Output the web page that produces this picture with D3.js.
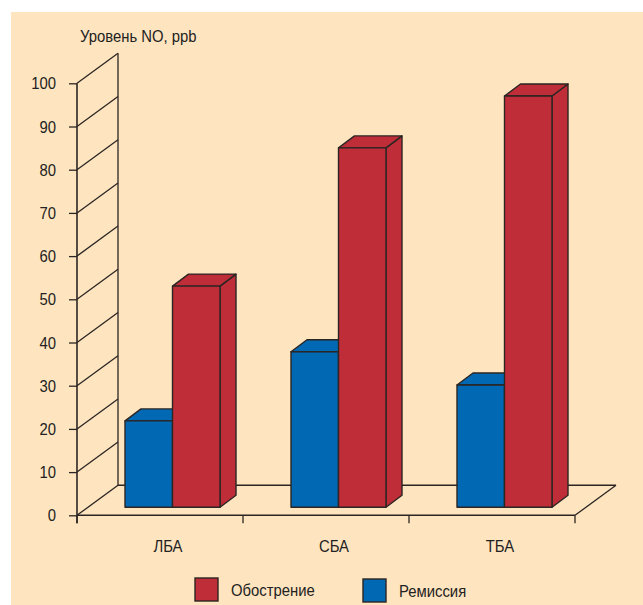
<!DOCTYPE html>
<html>
<head>
<meta charset="utf-8">
<script src="https://cdn.jsdelivr.net/npm/d3@7"></script>
<style>
  body { margin: 0; background: #fff; }
  svg text { font-family: "Liberation Sans", Arial, sans-serif; fill: #222; }
</style>
</head>
<body>
<div id="chart"></div>
<script>
// data
const categories = ['ЛБА', 'СБА', 'ТБА'];
const seriesNames = ['Ремиссия', 'Обострение'];
const remission = [20, 36, 28.3];
const exacerbation = [51.2, 83.2, 95.2];
const yTicks = [0, 10, 20, 30, 40, 50, 60, 70, 80, 90, 100];
const legendOrder = ['Обострение', 'Ремиссия'];

const width = 643;
const height = 605;
const colors = { 'Ремиссия': '#0169b3', 'Обострение': '#be2d38' };
const stroke = '#2b2523';
const fontSize = 16.5;
const squeeze = 0.9; // condensed look of the original type

// 3d wall depth and bar depth
const wall = { dx: 41, dy: -30 };
const barShift = { dx: 12.5, dy: -8 };
const barDepth = { dx: 16, dy: -12 };

const plot = { left: 77, right: 575, top: 83.3, bottom: 515.3 };

const svg = d3.select('#chart')
  .append('svg')
  .attr('width', width)
  .attr('height', height);

svg.append('rect')
  .attr('x', 11).attr('y', 12)
  .attr('width', width - 11).attr('height', height - 12)
  .attr('fill', '#fee5bf');

// narrow text helper
function label(parent, x, y, txt, anchor) {
  return parent.append('text')
    .attr('transform', `translate(${x},${y}) scale(${squeeze},1)`)
    .attr('text-anchor', anchor || 'start')
    .attr('font-size', fontSize)
    .text(txt);
}

const yScale = d3.scaleLinear().domain([0, 100]).range([plot.bottom, plot.top]);
const xScale = d3.scaleBand().domain(categories).range([plot.left, plot.right]);
const groupW = 95;
const xInner = d3.scaleBand().domain(seriesNames).range([0, groupW]);

// back wall: vertical line + diagonal gridlines
const grid = svg.append('g').attr('stroke', stroke).attr('stroke-width', 1.3).attr('fill', 'none');
grid.append('line')
  .attr('x1', plot.left + wall.dx).attr('x2', plot.left + wall.dx)
  .attr('y1', yScale(0) + wall.dy).attr('y2', yScale(100) + wall.dy);
grid.selectAll('.diag')
  .data(yTicks)
  .join('line')
  .attr('class', 'diag')
  .attr('x1', plot.left).attr('y1', (d) => yScale(d))
  .attr('x2', plot.left + wall.dx).attr('y2', (d) => yScale(d) + wall.dy);

// floor
grid.append('line')
  .attr('x1', plot.left + wall.dx).attr('y1', yScale(0) + wall.dy)
  .attr('x2', plot.right + wall.dx).attr('y2', yScale(0) + wall.dy)
  .attr('stroke-width', 1.6);
grid.append('line')
  .attr('x1', plot.right).attr('y1', yScale(0))
  .attr('x2', plot.right + wall.dx).attr('y2', yScale(0) + wall.dy);

// front y axis
const yAxis = d3.axisLeft(yScale).tickValues(yTicks).tickSize(8).tickFormat('');
const gy = svg.append('g')
  .attr('transform', `translate(${plot.left},0)`)
  .call(yAxis);
gy.select('.domain').remove();
gy.selectAll('line').attr('stroke', stroke).attr('stroke-width', 1.3);
gy.append('line')
  .attr('y1', yScale(100)).attr('y2', yScale(0) + 8)
  .attr('stroke', stroke).attr('stroke-width', 1.6);
yTicks.forEach((t) => label(gy, -21, yScale(t) + 6, String(t), 'end'));

// front x axis
const gx = svg.append('g');
gx.append('line')
  .attr('x1', plot.left).attr('x2', plot.right)
  .attr('y1', yScale(0)).attr('y2', yScale(0))
  .attr('stroke', stroke).attr('stroke-width', 1.6);
gx.selectAll('.tick')
  .data([...categories.map((c) => xScale(c)), plot.right])
  .join('line')
  .attr('x1', (d) => d).attr('x2', (d) => d)
  .attr('y1', yScale(0)).attr('y2', yScale(0) + 8)
  .attr('stroke', stroke).attr('stroke-width', 1.3);
categories.forEach((c) => label(gx, xScale(c) + xScale.bandwidth() / 2 + 8, yScale(0) + 37, c, 'middle'));

// bars
const rows = categories.map((c, i) => ({
  cat: c,
  bars: [
    { name: 'Ремиссия', value: remission[i] },
    { name: 'Обострение', value: exacerbation[i] },
  ],
}));

function pts(arr) {
  return arr.map((p) => p.join(',')).join(' ');
}

const groups = svg.append('g')
  .selectAll('g')
  .data(rows)
  .join('g')
  .attr('transform', (d) => `translate(${xScale(d.cat) + (xScale.bandwidth() - groupW) / 2 + barShift.dx},${barShift.dy})`);

const bar = groups.selectAll('g')
  .data((d) => d.bars)
  .join('g')
  .attr('fill', (d) => colors[d.name])
  .attr('stroke', stroke)
  .attr('stroke-width', 1.4)
  .attr('stroke-linejoin', 'round');

bar.each(function (d) {
  const g = d3.select(this);
  const x0 = xInner(d.name);
  const x1 = x0 + xInner.bandwidth();
  const y0 = yScale(0);
  const y1 = yScale(d.value);
  const { dx, dy } = barDepth;
  // side
  g.append('polygon').attr('points', pts([[x1, y0], [x1 + dx, y0 + dy], [x1 + dx, y1 + dy], [x1, y1]]));
  // top
  g.append('polygon').attr('points', pts([[x0, y1], [x0 + dx, y1 + dy], [x1 + dx, y1 + dy], [x1, y1]]));
  // front
  g.append('rect').attr('x', x0).attr('y', y1).attr('width', x1 - x0).attr('height', y0 - y1);
});

// title
label(svg, 80, 42, 'Уровень NO, ppb');

// legend
const legendX = [195, 363];
const legend = svg.append('g')
  .selectAll('g')
  .data(legendOrder)
  .join('g')
  .attr('transform', (d, i) => `translate(${legendX[i]},${578 + i})`);
legend.append('rect')
  .attr('width', 23).attr('height', 23)
  .attr('fill', (d) => colors[d])
  .attr('stroke', stroke).attr('stroke-width', 1.4);
legend.each(function (d) {
  label(d3.select(this), 36, 18, d);
});
</script>
</body>
</html>
